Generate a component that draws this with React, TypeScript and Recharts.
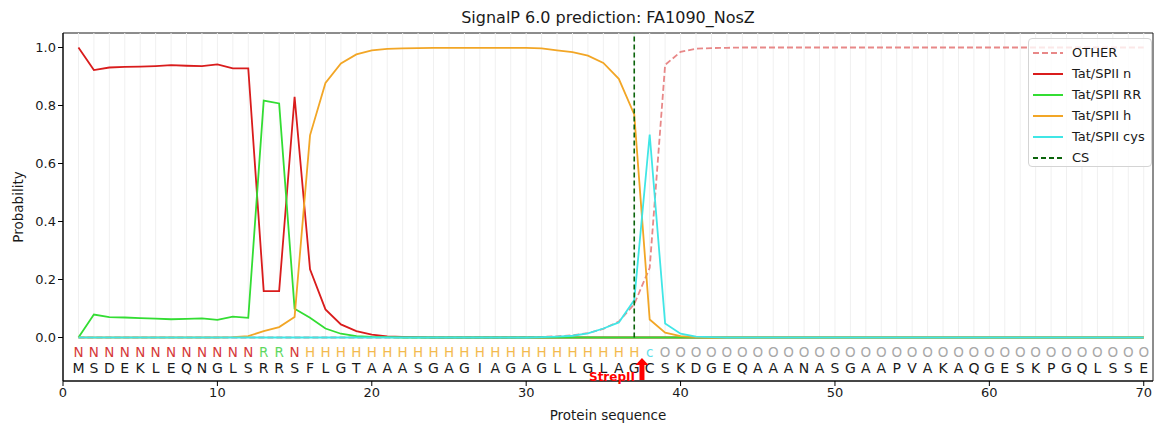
import {
  ComposedChart,
  Line,
  Scatter,
  XAxis,
  YAxis,
  ReferenceLine,
  ReferenceArea,
  ReferenceDot,
  Legend,
} from 'recharts';

// ── Data ──────────────────────────────────────────────────────────────────────

const residues = 'MSDEKLEQNGLSRRSFLGTAAASGAGIAGAGLLGLAGCSKDGEQAAANASGAAPVAKAQGESKPGQLSSE'.split('');

const states = (
  'NNNNNNNNNNNN' + 'RR' + 'N' + 'HHHHHHHHHH' + 'HHHHHHHHHH' + 'HH' + 'c' +
  'OOOOOOOO' + 'OOOOOOOO' + 'OOOOOOOO' + 'OOOOOOOO'
).split('');

const positions = residues.map((_, i) => i + 1);

const otherProb = [
  0, 0, 0, 0, 0, 0, 0, 0, 0, 0,
  0, 0, 0, 0, 0, 0, 0, 0, 0, 0,
  0, 0, 0, 0, 0, 0, 0, 0, 0, 0.001,
  0.002, 0.004, 0.008, 0.015, 0.03, 0.055, 0.115, 0.24, 0.94, 0.985,
  0.996, 0.998, 0.999, 1, 1, 1, 1, 1, 1, 1,
  1, 1, 1, 1, 1, 1, 1, 1, 1, 1,
  1, 1, 1, 1, 1, 1, 1, 1, 1, 1,
];

const nProb = [
  1.0, 0.922, 0.931, 0.933, 0.934, 0.936, 0.939, 0.937, 0.936, 0.942,
  0.928, 0.928, 0.16, 0.16, 0.83, 0.235, 0.097, 0.045, 0.022, 0.01,
  0.004, 0.002, 0.001, 0, 0, 0, 0, 0, 0, 0,
  0, 0, 0, 0, 0, 0, 0, 0, 0, 0,
  0, 0, 0, 0, 0, 0, 0, 0, 0, 0,
  0, 0, 0, 0, 0, 0, 0, 0, 0, 0,
  0, 0, 0, 0, 0, 0, 0, 0, 0, 0,
];

const rrProb = [
  0, 0.079, 0.07, 0.069, 0.067, 0.065, 0.063, 0.064, 0.066, 0.061,
  0.072, 0.068, 0.817, 0.807, 0.099, 0.068, 0.031, 0.013, 0.005, 0.002,
  0.001, 0, 0, 0, 0, 0, 0, 0, 0, 0,
  0, 0, 0, 0, 0, 0, 0, 0, 0, 0,
  0, 0, 0, 0, 0, 0, 0, 0, 0, 0,
  0, 0, 0, 0, 0, 0, 0, 0, 0, 0,
  0, 0, 0, 0, 0, 0, 0, 0, 0, 0,
];

const hProb = [
  0, 0, 0, 0, 0, 0, 0, 0, 0, 0,
  0.001, 0.005, 0.022, 0.036, 0.071, 0.697, 0.878, 0.945, 0.976, 0.99,
  0.995, 0.997, 0.998, 0.999, 0.999, 0.999, 0.999, 0.999, 0.999, 0.999,
  0.997, 0.99, 0.984, 0.972, 0.947, 0.892, 0.769, 0.062, 0.017, 0.005,
  0.001, 0, 0, 0, 0, 0, 0, 0, 0, 0,
  0, 0, 0, 0, 0, 0, 0, 0, 0, 0,
  0, 0, 0, 0, 0, 0, 0, 0, 0, 0,
];

const cysProb = [
  0, 0, 0, 0, 0, 0, 0, 0, 0, 0,
  0, 0, 0, 0, 0, 0, 0, 0, 0, 0,
  0, 0, 0, 0, 0, 0, 0, 0, 0, 0,
  0.001, 0.003, 0.006, 0.014, 0.031, 0.052, 0.129, 0.70, 0.048, 0.013,
  0.003, 0.001, 0, 0, 0, 0, 0, 0, 0, 0,
  0, 0, 0, 0, 0, 0, 0, 0, 0, 0,
  0, 0, 0, 0, 0, 0, 0, 0, 0, 0,
];

const cleavageSite = 37;
const strepPosition = 37.5;

const xTicks = [0, 10, 20, 30, 40, 50, 60, 70];
const yTicks = [0, 0.2, 0.4, 0.6, 0.8, 1.0];

// ── Styling ───────────────────────────────────────────────────────────────────

const FONT = 'DejaVu Sans, Verdana, sans-serif';
const X_MAX = 70.6;
const Y_MIN = -0.15;
const Y_MAX = 1.05;

const COLORS = {
  other: '#e88888',
  n: '#d91c1c',
  rr: '#33dd33',
  h: '#f2a626',
  cys: '#40e6e6',
  cs: '#0b640b',
};

const STATE_COLORS: Record<string, string> = {
  N: '#d63a3a',
  R: '#5fd85f',
  H: '#f3ba4f',
  c: '#5fe0ea',
  O: '#a8a8a8',
};

const legendItems = [
  { label: 'OTHER', color: COLORS.other, dash: '6 3' },
  { label: 'Tat/SPII n', color: COLORS.n },
  { label: 'Tat/SPII RR', color: COLORS.rr },
  { label: 'Tat/SPII h', color: COLORS.h },
  { label: 'Tat/SPII cys', color: COLORS.cys },
  { label: 'CS', color: COLORS.cs, dash: '5 3' },
];

const rows = positions.map((pos, i) => ({
  pos,
  other: otherProb[i],
  n: nProb[i],
  rr: rrProb[i],
  h: hProb[i],
  cys: cysProb[i],
}));

const stateRow = positions.map((pos, i) => ({ pos, y: -0.05, letter: states[i] }));
const residueRow = positions.map((pos, i) => ({ pos, y: -0.105, letter: residues[i] }));

// ── Custom shapes ─────────────────────────────────────────────────────────────

function StateLetter({ cx, cy, payload }: any) {
  return (
    <text
      x={cx}
      y={cy}
      dy="0.36em"
      textAnchor="middle"
      fontSize={13.5}
      fontFamily={FONT}
      fill={STATE_COLORS[payload.letter]}
    >
      {payload.letter}
    </text>
  );
}

function ResidueLetter({ cx, cy, payload }: any) {
  return (
    <text x={cx} y={cy} dy="0.36em" textAnchor="middle" fontSize={14} fontFamily={FONT} fill="#1a1a1a">
      {payload.letter}
    </text>
  );
}

function StrepMarker({ cx, cy }: any) {
  const tip = cy - 23;
  const head = cy - 16;
  return (
    <g>
      <polygon
        points={`${cx},${tip} ${cx + 6.5},${head} ${cx + 2.5},${head} ${cx + 2.5},${cy - 1} ${cx - 2.5},${cy - 1} ${cx - 2.5},${head} ${cx - 6.5},${head}`}
        fill="#ff0000"
      />
      <text x={cx - 7} y={cy} textAnchor="end" fontSize={12} fontWeight="bold" fontFamily={FONT} fill="#ff0000">
        StrepII
      </text>
    </g>
  );
}

function ChartLegend() {
  return (
    <div
      style={{
        width: 124,
        height: 129,
        boxSizing: 'border-box',
        border: '1px solid #d4d4d4',
        borderRadius: 4,
        background: 'rgba(255,255,255,0.8)',
        padding: '3px 0 0 4px',
        fontFamily: FONT,
      }}
    >
      {legendItems.map((it) => (
        <div key={it.label} style={{ display: 'flex', alignItems: 'center', height: 21 }}>
          <svg width={30} height={4} style={{ display: 'block' }}>
            <line x1={0} y1={2} x2={30} y2={2} stroke={it.color} strokeWidth={2} strokeDasharray={it.dash} />
          </svg>
          <span style={{ marginLeft: 9, fontSize: 13, color: '#1a1a1a', whiteSpace: 'nowrap' }}>{it.label}</span>
        </div>
      ))}
    </div>
  );
}

// ── Chart ─────────────────────────────────────────────────────────────────────

export default function App() {
  return (
    <div style={{ position: 'absolute', left: 0, top: 0, width: 1156, height: 426, background: '#fff', fontFamily: FONT }}>
      <div
        style={{
          position: 'absolute',
          left: 63,
          width: 1090,
          top: 8,
          textAlign: 'center',
          fontSize: 16,
          color: '#1a1a1a',
        }}
      >
        SignalP 6.0 prediction: FA1090_NosZ
      </div>

      <ComposedChart
        width={1156}
        height={426}
        data={rows}
        margin={{ top: 33, right: 3, bottom: 0, left: 0 }}
        style={{ fontFamily: FONT }}
      >
        <XAxis
          type="number"
          dataKey="pos"
          domain={[0, X_MAX]}
          ticks={xTicks}
          allowDataOverflow
          height={45}
          tickSize={5}
          tickMargin={2}
          tick={{ fontSize: 13, fill: '#1a1a1a', fontFamily: FONT }}
          tickLine={{ stroke: '#000' }}
          axisLine={{ stroke: '#000' }}
          label={{ value: 'Protein sequence', position: 'insideBottom', offset: 6, fontSize: 13.5, fill: '#1a1a1a' }}
        />
        <YAxis
          type="number"
          domain={[Y_MIN, Y_MAX]}
          ticks={yTicks}
          allowDataOverflow
          width={63}
          tickSize={5}
          tickMargin={2}
          tickFormatter={(v: number) => v.toFixed(1)}
          tick={{ fontSize: 13, fill: '#1a1a1a', fontFamily: FONT }}
          tickLine={{ stroke: '#000' }}
          axisLine={{ stroke: '#000' }}
          label={{
            value: 'Probability',
            angle: -90,
            position: 'insideLeft',
            offset: 18,
            fontSize: 13.5,
            fill: '#1a1a1a',
            style: { textAnchor: 'middle' },
          }}
        />

        {positions.map((p) => (
          <ReferenceLine
            key={`g${p}`}
            segment={[{ x: p, y: 0 }, { x: p, y: Y_MAX }]}
            stroke="#f0f0f0"
            strokeWidth={1}
          />
        ))}

        <Line type="linear" dataKey="other" stroke={COLORS.other} strokeWidth={1.8} strokeDasharray="6 3" dot={false} isAnimationActive={false} />
        <Line type="linear" dataKey="n" stroke={COLORS.n} strokeWidth={1.8} dot={false} isAnimationActive={false} />
        <Line type="linear" dataKey="rr" stroke={COLORS.rr} strokeWidth={1.8} dot={false} isAnimationActive={false} />
        <Line type="linear" dataKey="h" stroke={COLORS.h} strokeWidth={1.8} dot={false} isAnimationActive={false} />
        <Line type="linear" dataKey="cys" stroke={COLORS.cys} strokeWidth={1.8} dot={false} isAnimationActive={false} />

        <ReferenceLine
          segment={[{ x: cleavageSite, y: 0 }, { x: cleavageSite, y: Y_MAX }]}
          stroke={COLORS.cs}
          strokeWidth={1.6}
          strokeDasharray="5 3"
        />

        <Scatter data={stateRow} dataKey="y" shape={StateLetter} isAnimationActive={false} />
        <Scatter data={residueRow} dataKey="y" shape={ResidueLetter} isAnimationActive={false} />

        <ReferenceDot x={strepPosition} y={Y_MIN} shape={StrepMarker} ifOverflow="visible" />

        <ReferenceArea
          x1={0}
          x2={X_MAX}
          y1={Y_MIN}
          y2={Y_MAX}
          fill="none"
          stroke="#1a1a1a"
          strokeWidth={1}
          ifOverflow="visible"
        />

        <Legend
          layout="vertical"
          align="center"
          verticalAlign="middle"
          content={() => <ChartLegend />}
          wrapperStyle={{ left: 1028, top: 38, width: 124, height: 129 }}
        />
      </ComposedChart>
    </div>
  );
}
